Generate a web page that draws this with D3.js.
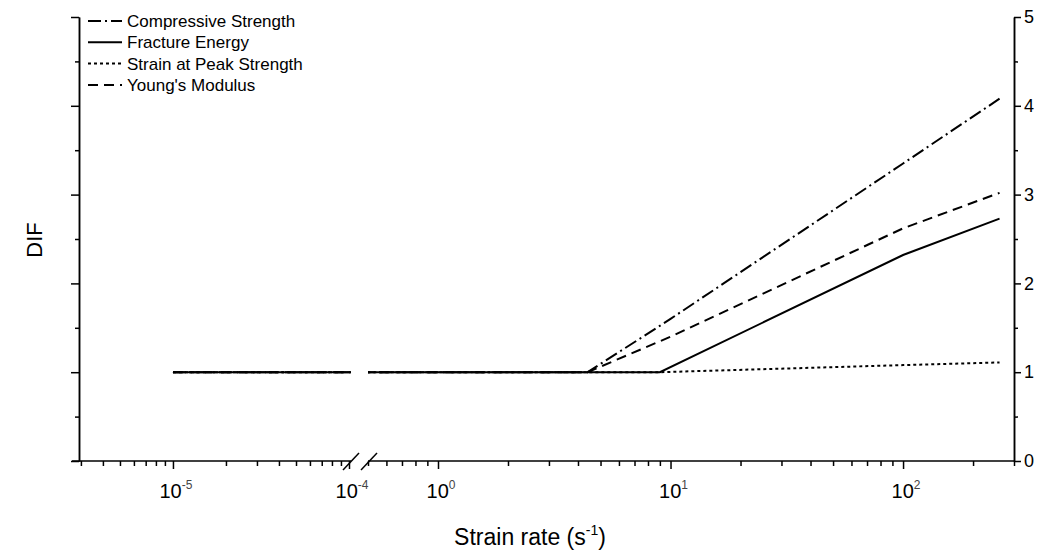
<!DOCTYPE html>
<html>
<head>
<meta charset="utf-8">
<script src="https://cdn.jsdelivr.net/npm/d3@7"></script>
<style>
body { margin: 0; background: #fff; }
text { font-family: Arial, "Liberation Sans", sans-serif; fill: #000; }
</style>
</head>
<body>
<script>
// DATA
var seriesNames = ["Compressive Strength", "Fracture Energy", "Strain at Peak Strength", "Young's Modulus"];
var compRate = [1e-5, 4.4, 10, 100, 260];
var compDIF = [1, 1, 1.6, 3.35, 4.08];
var fracRate = [1e-5, 9, 100, 260];
var fracDIF = [1, 1, 2.32, 2.73];
var peakRate = [1e-5, 9, 100, 260];
var peakDIF = [1, 1, 1.08, 1.11];
var youngRate = [1e-5, 4.4, 10, 100, 260];
var youngDIF = [1, 1, 1.4, 2.62, 3.02];

var lowMajor = [1e-5, 1e-4];
var highMajor = [1, 10, 100];
var lowExp = ["-5", "-4"];
var highExp = ["0", "1", "2"];
var yMajor = [0, 1, 2, 3, 4, 5];
var yMinor = [0.5, 1.5, 2.5, 3.5, 4.5];

var svg = d3.select("body").append("svg")
  .attr("width", 1045)
  .attr("height", 554);

// scales, x axis is broken in two log pieces
var y = d3.scaleLinear().domain([0, 5]).range([461, 17]);
var xLow = d3.scaleLog().domain([2.67e-6, 1e-4]).range([72, 349]);
var xHigh = d3.scaleLog().domain([0.5, 300]).range([368, 1014]);

function minors(sc) {
  var d = sc.domain(), out = [];
  for (var e = Math.floor(Math.log10(d[0])); e <= Math.ceil(Math.log10(d[1])); e++) {
    for (var m = 2; m < 10; m++) {
      var v = m * Math.pow(10, e);
      if (v >= d[0] && v <= d[1]) out.push(v);
    }
  }
  return out;
}

// series
var series = [
  {name: seriesNames[0], pts: d3.zip(compRate, compDIF), dash: "13,4,2,4"},
  {name: seriesNames[1], pts: d3.zip(fracRate, fracDIF), dash: null},
  {name: seriesNames[2], pts: d3.zip(peakRate, peakDIF), dash: "3,3"},
  {name: seriesNames[3], pts: d3.zip(youngRate, youngDIF), dash: "10,6"}
];

var defs = svg.append("defs");
[["clipLow", xLow, 351], ["clipHigh", xHigh, null]].forEach(function(c) {
  var r = c[1].range();
  defs.append("clipPath").attr("id", c[0])
    .append("rect")
    .attr("x", r[0])
    .attr("y", 0)
    .attr("width", (c[2] || r[1]) - r[0])
    .attr("height", 554);
});

[["clipLow", xLow], ["clipHigh", xHigh]].forEach(function(c) {
  var g = svg.append("g").attr("clip-path", "url(#" + c[0] + ")");
  var line = d3.line()
    .x(function(d) { return c[1](d[0]); })
    .y(function(d) { return y(d[1]); });
  // draw solid last so it sits on top of the flat part
  [2, 3, 0, 1].forEach(function(i) {
    g.append("path")
      .attr("d", line(series[i].pts))
      .attr("fill", "none")
      .attr("stroke", "#000")
      .attr("stroke-width", 2)
      .attr("stroke-dasharray", series[i].dash);
  });
});

// x axis ticks
function xTicks(sc, major) {
  svg.append("g")
    .attr("transform", "translate(0,461)")
    .call(d3.axisBottom(sc).tickValues(major).tickSize(8).tickSizeOuter(0).tickFormat(""))
    .call(function(g) { g.select(".domain").remove(); });
  svg.append("g")
    .attr("transform", "translate(0,461)")
    .call(d3.axisBottom(sc).tickValues(minors(sc)).tickSize(5).tickSizeOuter(0).tickFormat(""))
    .call(function(g) { g.select(".domain").remove(); });
}
xTicks(xLow, lowMajor);
xTicks(xHigh, highMajor);
svg.selectAll(".tick line").attr("stroke", "#000").attr("stroke-width", 1.5);

// axis line pieces and break marks
svg.append("line")
  .attr("x1", xLow.range()[0]).attr("x2", 351)
  .attr("y1", 461).attr("y2", 461)
  .attr("stroke", "#000").attr("stroke-width", 1.5);
svg.append("line")
  .attr("x1", xHigh.range()[0]).attr("x2", xHigh.range()[1])
  .attr("y1", 461).attr("y2", 461)
  .attr("stroke", "#000").attr("stroke-width", 1.5);
[351, 369].forEach(function(bx) {
  svg.append("line")
    .attr("x1", bx - 8).attr("y1", 470)
    .attr("x2", bx + 8).attr("y2", 453)
    .attr("stroke", "#000").attr("stroke-width", 1.5);
});

// x tick labels 10^n
function xLabels(sc, vals, exps) {
  vals.forEach(function(v, i) {
    var t = svg.append("text")
      .attr("x", sc(v) + 3)
      .attr("y", 498)
      .attr("text-anchor", "middle")
      .style("font-size", "20px");
    t.append("tspan").text("10");
    t.append("tspan")
      .attr("dy", -9)
      .style("font-size", "12px")
      .style("fill", "#444")
      .text(exps[i]);
  });
}
xLabels(xLow, lowMajor, lowExp);
xLabels(xHigh, highMajor, highExp);

// y axes
svg.append("g")
  .attr("transform", "translate(79,0)")
  .call(d3.axisLeft(y).tickValues(yMajor).tickSize(8).tickSizeOuter(0).tickFormat(""));
svg.append("g")
  .attr("transform", "translate(79,0)")
  .call(d3.axisLeft(y).tickValues(yMinor).tickSize(4).tickSizeOuter(0).tickFormat(""));
svg.append("g")
  .attr("class", "rightAxis")
  .attr("transform", "translate(1014,0)")
  .call(d3.axisRight(y).tickValues(yMajor).tickSize(7).tickSizeOuter(0).tickPadding(3).tickFormat(d3.format("d")));
svg.append("g")
  .attr("transform", "translate(1014,0)")
  .call(d3.axisRight(y).tickValues(yMinor).tickSize(4).tickSizeOuter(0).tickFormat(""));
svg.selectAll(".domain").attr("stroke", "#000").attr("stroke-width", 1.5);
svg.selectAll(".tick line").attr("stroke", "#000").attr("stroke-width", 1.5);
svg.selectAll(".rightAxis text")
  .style("font-size", "18px")
  .style("font-family", "Arial, 'Liberation Sans', sans-serif");

// axis titles
var xt = svg.append("text")
  .attr("x", 530)
  .attr("y", 545)
  .attr("text-anchor", "middle")
  .style("font-size", "23px");
xt.append("tspan").text("Strain rate (s");
xt.append("tspan").attr("dy", -10).style("font-size", "14px").text("-1");
xt.append("tspan").attr("dy", 10).text(")");

svg.append("text")
  .attr("transform", "translate(42,240) rotate(-90)")
  .attr("text-anchor", "middle")
  .style("font-size", "22px")
  .text("DIF");

// legend
series.forEach(function(s, i) {
  var ly = 21 + i * 21.3;
  svg.append("line")
    .attr("x1", 88).attr("x2", 122)
    .attr("y1", ly).attr("y2", ly)
    .attr("stroke", "#000")
    .attr("stroke-width", 2)
    .attr("stroke-dasharray", s.dash);
  svg.append("text")
    .attr("x", 127)
    .attr("y", ly)
    .attr("dy", "0.35em")
    .style("font-size", "17px")
    .text(s.name);
});
</script>
</body>
</html>
